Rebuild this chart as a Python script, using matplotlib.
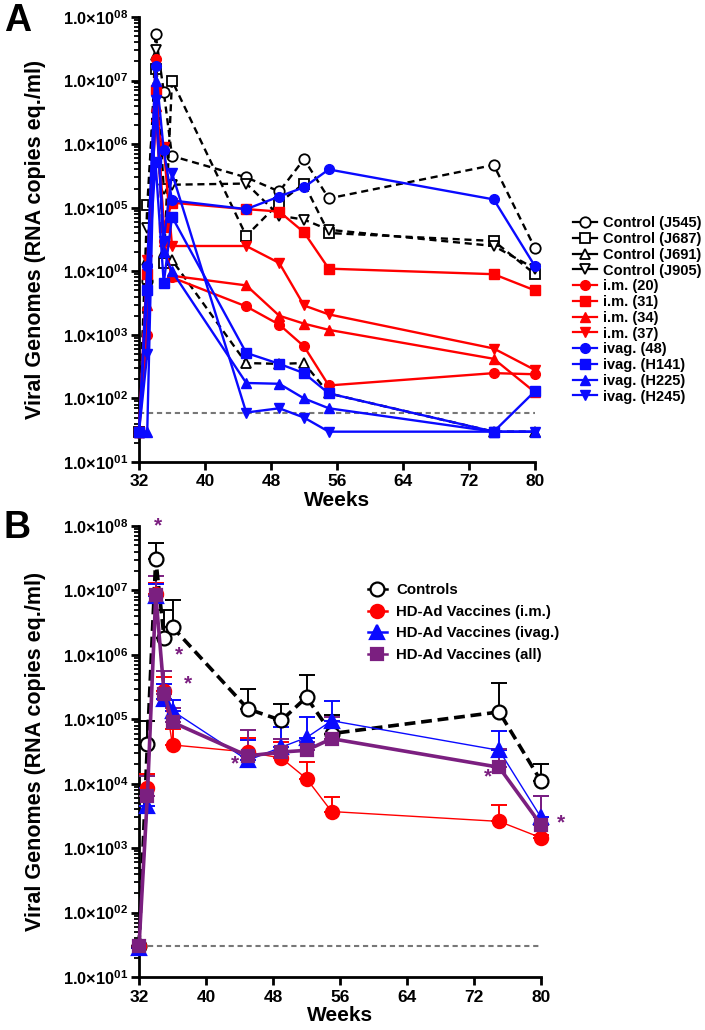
import matplotlib
matplotlib.use("Agg")
import matplotlib.pyplot as plt
import numpy as np
from matplotlib.ticker import FixedLocator, FuncFormatter, LogLocator, NullFormatter
from matplotlib.lines import Line2D

plt.rcParams['font.family'] = ['Liberation Sans', 'DejaVu Sans']
plt.rcParams['font.weight'] = 'bold'
plt.rcParams['mathtext.fontset'] = 'custom'
plt.rcParams['mathtext.bf'] = 'Liberation Sans:bold'
plt.rcParams['mathtext.rm'] = 'Liberation Sans:bold'
plt.rcParams['mathtext.it'] = 'Liberation Sans:bold'

# ---------------- data ----------------
weeks = [32, 33, 34, 35, 36, 45, 49, 52, 55, 75, 80]

# Panel A: individual animals
control_J545 = [30, 7e3, 5.5e7, 6.7e6, 6.5e5, 3.0e5, 1.8e5, 5.8e5, 1.4e5, 4.7e5, 2.3e4]
control_J687 = [30, 1.1e5, 1.5e7, 1.35e4, 1.0e7, 3.6e4, 1.2e5, 2.4e5, 4.0e4, 3.0e4, 9.0e3]
control_J691 = [30, 1.5e4, 2.5e7, 2.0e4, 1.5e4, 3.6e2, 3.5e2, 3.6e2, 1.2e2, 30, 30]
control_J905 = [30, 4.8e4, 3.0e7, 2.0e5, 2.3e5, 2.4e5, 7.5e4, 6.5e4, 4.5e4, 2.5e4, 1.1e4]
im_20 = [30, 1.0e3, 2.2e7, 3.0e4, 8.0e3, 2.8e3, 1.45e3, 6.6e2, 1.6e2, 2.5e2, 2.4e2]
im_31 = [30, 9.0e3, 7.0e6, 5.0e4, 1.2e5, 9.5e4, 8.7e4, 4.1e4, 1.1e4, 9.0e3, 5.0e3]
im_34 = [30, 3.0e3, 4.0e6, 3.0e4, 8.5e3, 6.0e3, 2.0e3, 1.5e3, 1.2e3, 4.2e2, 1.25e2]
im_37 = [30, 1.5e4, 2.0e6, 9.0e5, 2.5e4, 2.5e4, 1.35e4, 2.9e3, 2.1e3, 6.1e2, 2.8e2]
ivag_48 = [30, 1.2e4, 1.7e7, 8.0e5, 1.3e5, 9.5e4, 1.5e5, 2.1e5, 4.0e5, 1.35e5, 1.2e4]
ivag_H141 = [30, 5.0e3, 5.3e5, 6.5e3, 7.2e4, 5.2e2, 3.5e2, 2.5e2, 1.2e2, 30, 1.3e2]
ivag_H225 = [30, 30, 1.0e7, 2.0e4, 1.0e4, 1.75e2, 1.7e2, 1.0e2, 70, 30, 30]
ivag_H245 = [30, 5.0e2, 5.0e6, 3.0e4, 3.5e5, 60, 70, 50, 30, 30, 30]
limit_A = 60

# Panel B: group means and upper error bars
controls_mean = [30, 4.2e4, 3.1e7, 1.8e6, 2.7e6, 1.45e5, 9.6e4, 2.2e5, 6.0e4, 1.3e5, 1.1e4]
controls_hi = [30, 9.3e4, 5.5e7, 5.0e6, 7.2e6, 2.9e5, 1.7e5, 4.8e5, 1.18e5, 3.7e5, 2.0e4]
im_mean = [30, 8.6e3, 8.9e6, 2.7e5, 4.0e4, 3.1e4, 2.5e4, 1.2e4, 3.7e3, 2.6e3, 1.45e3]
im_hi = [30, 1.4e4, 1.3e7, 4.6e5, 7.0e4, 5.2e4, 4.5e4, 2.2e4, 6.3e3, 4.7e3, 1.6e3]
ivag_mean = [28, 4.5e3, 8.3e6, 2.1e5, 1.35e5, 2.3e4, 3.7e4, 5.2e4, 9.5e4, 3.3e4, 3.0e3]
ivag_hi = [28, 8.7e3, 1.25e7, 3.5e5, 2.0e5, 4.7e4, 7.7e4, 1.07e5, 1.9e5, 6.6e4, 6.4e3]
all_mean = [30, 6.5e3, 8.6e6, 2.5e5, 9.0e4, 2.7e4, 3.1e4, 3.3e4, 5.0e4, 1.8e4, 2.3e3]
all_hi = [30, 1.3e4, 1.65e7, 5.6e5, 1.5e5, 6.8e4, 5.0e4, 4.5e4, 1.1e5, 3.5e4, 6.5e3]
limit_B = 30
star_x = [34.3, 36.8, 37.8, 43.4, 73.7, 82.4]
star_y = [1.0e8, 1.0e6, 3.5e5, 2.0e4, 1.26e4, 2.5e3]

xticks = [32, 40, 48, 56, 64, 72, 80]

RED = '#ff0000'
BLUE = '#0a0aff'
PURPLE = '#7b1f80'

fig = plt.figure(figsize=(7.05, 10.30), dpi=100)
axA = fig.add_axes([139/705, 1-462/1030, 396/705, 445/1030])
axB = fig.add_axes([139/705, 1-977/1030, 402/705, 451/1030])

def fmt(v, pos):
    e = int(round(np.log10(v)))
    return r'$\mathbf{1.0{\times}10^{0%d}}$' % e

def style(ax):
    ax.set_yscale('log')
    ax.set_ylim(10, 1e8)
    ax.set_xlim(32, 80)
    ax.spines['top'].set_visible(False)
    ax.spines['right'].set_visible(False)
    ax.spines['left'].set_linewidth(2.0)
    ax.spines['bottom'].set_linewidth(2.0)
    ax.yaxis.set_major_locator(FixedLocator([10**k for k in range(1, 9)]))
    ax.yaxis.set_major_formatter(FuncFormatter(fmt))
    ax.yaxis.set_minor_locator(LogLocator(base=10, subs=np.arange(2, 10), numticks=20))
    ax.yaxis.set_minor_formatter(NullFormatter())
    ax.set_xticks(xticks)
    ax.set_xticklabels([str(t) for t in xticks], fontsize=12.5, fontweight='bold')
    ax.tick_params(axis='y', which='major', length=6, width=2, labelsize=11.8, pad=2)
    ax.tick_params(axis='y', which='minor', length=3.5, width=1.3)
    ax.tick_params(axis='x', which='major', length=6, width=2, pad=3)
    ax.set_xlabel('Weeks', fontsize=15, fontweight='bold', labelpad=1)
    ax.set_ylabel('Viral Genomes (RNA copies eq./ml)', fontsize=15.5, fontweight='bold', labelpad=12)

style(axA)
style(axB)

# ---------------- Panel A ----------------
axA.plot([32, 80], [limit_A, limit_A], color='#777777', lw=1.5, ls=(0, (2.5, 1.8)), zorder=1)

ctrl = [(control_J545, 'o', 'Control (J545)'), (control_J687, 's', 'Control (J687)'),
        (control_J691, '^', 'Control (J691)'), (control_J905, 'v', 'Control (J905)')]
handles = []
for vals, m, lab in ctrl:
    axA.plot(weeks, vals, color='black', ls=(0, (3, 2)), lw=1.7, marker=m, ms=7.5,
             mfc='white', mec='black', mew=1.3, clip_on=False, zorder=3)
    handles.append(Line2D([], [], color='black', lw=1.6, marker=m, ms=7.5, mfc='white',
                          mec='black', mew=1.3, label=lab))
grp = [(im_20, 'o', RED, 'i.m. (20)'), (im_31, 's', RED, 'i.m. (31)'),
       (im_34, '^', RED, 'i.m. (34)'), (im_37, 'v', RED, 'i.m. (37)'),
       (ivag_48, 'o', BLUE, 'ivag. (48)'), (ivag_H141, 's', BLUE, 'ivag. (H141)'),
       (ivag_H225, '^', BLUE, 'ivag. (H225)'), (ivag_H245, 'v', BLUE, 'ivag. (H245)')]
for vals, m, c, lab in grp:
    axA.plot(weeks, vals, color=c, lw=1.7, marker=m, ms=7, mfc=c, mec=c,
             clip_on=False, zorder=4)
    handles.append(Line2D([], [], color=c, lw=1.6, marker=m, ms=7, mfc=c, mec=c, label=lab))

fig.legend(handles=handles, loc='upper left', bbox_to_anchor=(566/705, 1-209/1030),
           frameon=False, handlelength=1.6, handletextpad=0.45,
           labelspacing=0.12, borderpad=0, prop={'weight': 'bold', 'size': 10.5})

# ---------------- Panel B ----------------
axB.plot([32, 80], [limit_B, limit_B], color='#777777', lw=1.5, ls=(0, (2.5, 1.8)), zorder=1)

series_B = [
    (controls_mean, controls_hi, 'black', 'o', 'white', (0, (3, 1.6)), 2.6, 10, 'Controls'),
    (im_mean, im_hi, RED, 'o', RED, '-', 1.0, 9.5, 'HD-Ad Vaccines (i.m.)'),
    (ivag_mean, ivag_hi, BLUE, '^', BLUE, '-', 1.0, 9.5, 'HD-Ad Vaccines (ivag.)'),
    (all_mean, all_hi, PURPLE, 's', PURPLE, '-', 2.6, 9, 'HD-Ad Vaccines (all)'),
]
handlesB = []
for i, (m_, hi, c, mk, fc, ls, lw, ms, lab) in enumerate(series_B):
    m_ = np.array(m_, float)
    hi = np.array(hi, float)
    up = np.clip(hi - m_, 0, None)
    axB.errorbar(weeks, m_, yerr=[np.zeros_like(up), up], fmt='none', ecolor=c,
                 elinewidth=1.4, capsize=6, capthick=1.4, clip_on=False, zorder=2 + i)
    axB.plot(weeks, m_, color=c, ls=ls, lw=lw, marker=mk, ms=ms, mfc=fc, mec=c,
             mew=1.6, clip_on=False, zorder=6 + i)
    handlesB.append(Line2D([], [], color=c, ls='-', lw=1.8, marker=mk, ms=ms, mfc=fc,
                           mec=c, mew=1.6, label=lab))

for sx, sy in zip(star_x, star_y):
    axB.text(sx, sy, '*', color=PURPLE, fontsize=15, ha='center', va='center',
             clip_on=False, zorder=10)

fig.legend(handles=handlesB, loc='upper left', bbox_to_anchor=(360/705, 1-576/1030),
           frameon=False, handlelength=1.3, handletextpad=0.6,
           labelspacing=0.5, borderpad=0, prop={'weight': 'bold', 'size': 10.8})

fig.text(4/705, 1-3/1030, 'A', fontsize=27, fontweight='bold', va='top', ha='left')
fig.text(4/705, 1-510/1030, 'B', fontsize=27, fontweight='bold', va='top', ha='left')

fig.savefig('out.png', dpi=100)
